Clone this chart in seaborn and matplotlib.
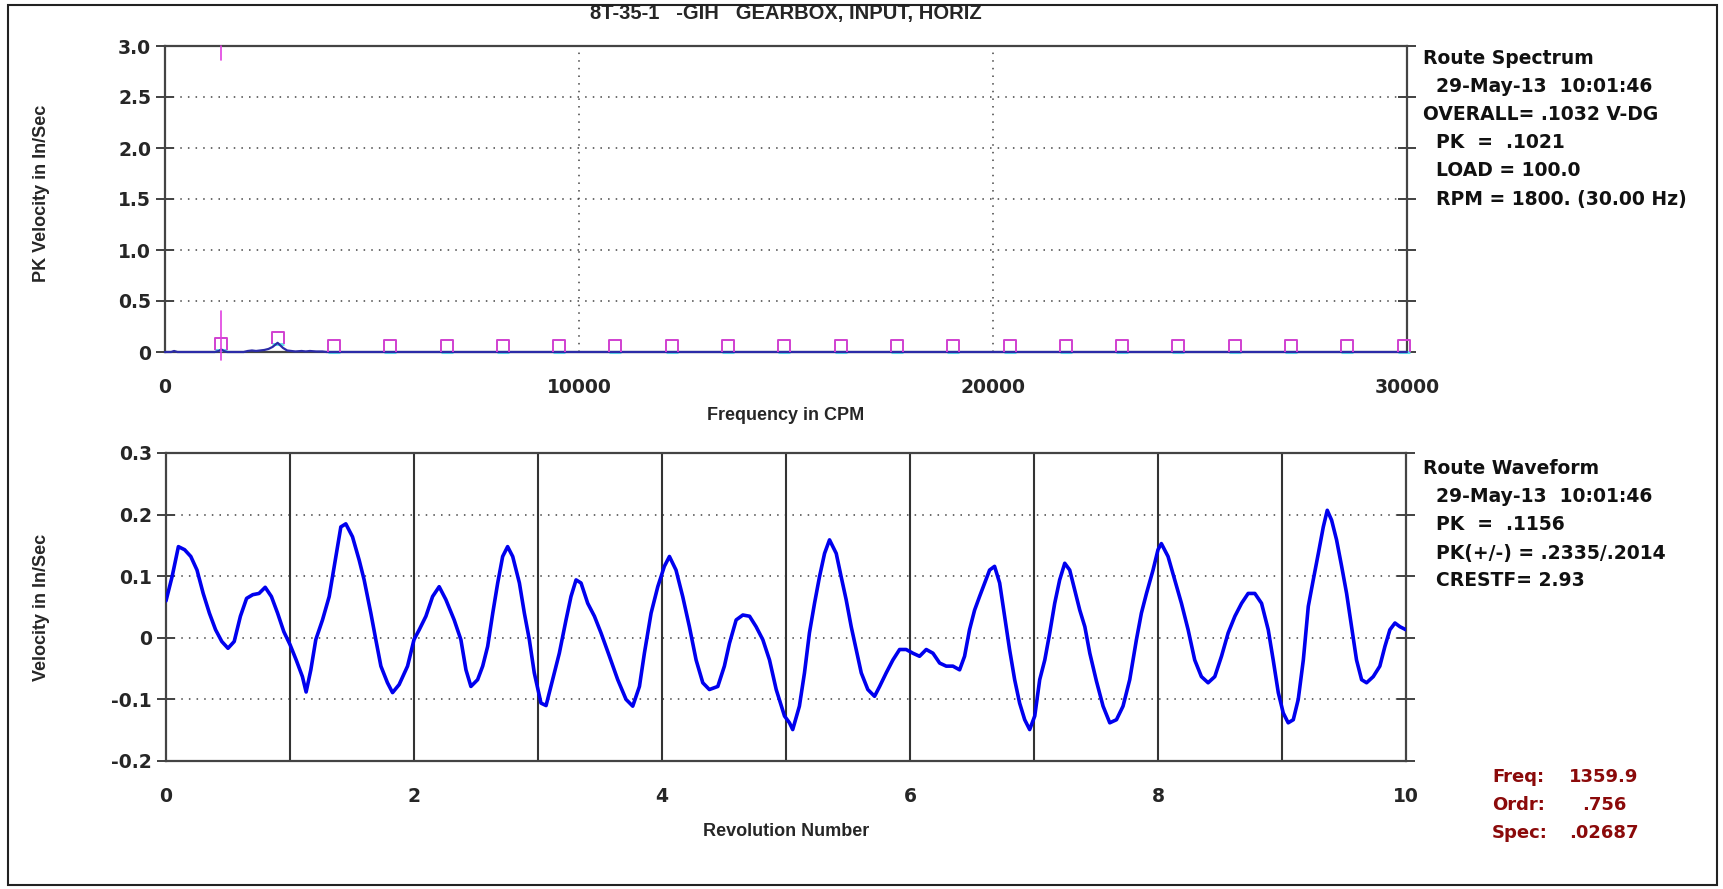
import matplotlib
matplotlib.use("Agg")
import numpy as np
import pandas as pd
import seaborn as sns
import matplotlib.pyplot as plt
from matplotlib.path import Path
from matplotlib.patches import Rectangle

# ---------------- data ----------------
spec_freq = [0, 150, 220, 300, 1200, 1300, 1360, 1420, 1500, 1900, 2000, 2100, 2200,
             2300, 2400, 2500, 2600, 2720, 2850, 2950, 3050, 3150, 3300, 3400, 3500,
             3650, 3800, 3900, 30000]
spec_amp = [0, 0, 0.01, 0, 0, 0.01, 0.025, 0.01, 0, 0, 0.01, 0.015, 0.01,
            0.015, 0.02, 0.03, 0.05, 0.09, 0.04, 0.015, 0.01, 0.005, 0.01, 0.005, 0.01,
            0.005, 0.005, 0, 0]

harm_freq = [1360, 2720, 4080, 5440, 6800, 8159, 9519, 10879, 12239, 13599, 14959,
             16319, 17679, 19039, 20399, 21758, 23118, 24478, 25838, 27198, 28558, 29918]
harm_amp = [0.02, 0.08, 0, 0, 0, 0, 0, 0, 0, 0, 0, 0, 0, 0, 0, 0, 0, 0, 0, 0, 0, 0]
cursor_freq = 1360

spec_yticks = [0, 0.5, 1.0, 1.5, 2.0, 2.5, 3.0]
spec_yticklabels = ["0", "0.5", "1.0", "1.5", "2.0", "2.5", "3.0"]
spec_xticks = [0, 10000, 20000, 30000]

wave_rev = [0.000, 0.050, 0.100, 0.150, 0.200, 0.250, 0.300, 0.350, 0.400, 0.450, 0.500,
            0.550, 0.600, 0.650, 0.700, 0.750, 0.800, 0.850, 0.900, 0.950, 1.000, 1.050,
            1.100, 1.130, 1.168, 1.208, 1.262, 1.316, 1.356, 1.410, 1.450, 1.504, 1.558,
            1.598, 1.652, 1.692, 1.733, 1.786, 1.827, 1.880, 1.948, 2.000, 2.042, 2.096,
            2.150, 2.203, 2.257, 2.324, 2.378, 2.419, 2.459, 2.513, 2.554, 2.594, 2.635,
            2.675, 2.715, 2.755, 2.796, 2.850, 2.890, 2.930, 2.970, 3.024, 3.065, 3.118,
            3.172, 3.226, 3.266, 3.307, 3.347, 3.401, 3.455, 3.508, 3.576, 3.643, 3.710,
            3.764, 3.818, 3.858, 3.912, 3.966, 4.019, 4.060, 4.113, 4.167, 4.221, 4.275,
            4.329, 4.382, 4.450, 4.503, 4.544, 4.598, 4.652, 4.706, 4.759, 4.813, 4.867,
            4.921, 4.988, 5.028, 5.054, 5.108, 5.149, 5.189, 5.230, 5.270, 5.311, 5.351,
            5.405, 5.445, 5.485, 5.526, 5.566, 5.607, 5.660, 5.714, 5.755, 5.808, 5.862,
            5.916, 5.969, 6.023, 6.077, 6.131, 6.185, 6.239, 6.292, 6.346, 6.400, 6.440,
            6.480, 6.521, 6.561, 6.602, 6.642, 6.682, 6.723, 6.763, 6.803, 6.844, 6.884,
            6.925, 6.965, 7.006, 7.046, 7.087, 7.127, 7.167, 7.207, 7.248, 7.288, 7.328,
            7.369, 7.410, 7.450, 7.503, 7.557, 7.611, 7.665, 7.718, 7.772, 7.826, 7.866,
            7.907, 7.960, 8.000, 8.027, 8.081, 8.135, 8.189, 8.243, 8.296, 8.350, 8.404,
            8.458, 8.512, 8.566, 8.620, 8.674, 8.727, 8.781, 8.835, 8.889, 8.929, 8.970,
            9.010, 9.050, 9.091, 9.131, 9.172, 9.212, 9.252, 9.293, 9.333, 9.365, 9.400,
            9.440, 9.481, 9.521, 9.561, 9.601, 9.642, 9.682, 9.736, 9.789, 9.830, 9.870,
            9.911, 9.951, 10.000]
wave_vel = [0.060, 0.100, 0.148, 0.143, 0.132, 0.110, 0.072, 0.040, 0.013, -0.006, -0.017,
            -0.006, 0.035, 0.064, 0.070, 0.072, 0.082, 0.067, 0.040, 0.010, -0.011, -0.036,
            -0.063, -0.088, -0.052, -0.003, 0.029, 0.067, 0.115, 0.180, 0.185, 0.164, 0.126,
            0.094, 0.040, -0.003, -0.046, -0.073, -0.089, -0.076, -0.046, -0.003, 0.013, 0.035,
            0.067, 0.083, 0.062, 0.029, -0.003, -0.052, -0.079, -0.068, -0.046, -0.014, 0.040,
            0.089, 0.132, 0.148, 0.132, 0.089, 0.040, -0.003, -0.057, -0.106, -0.110, -0.068,
            -0.025, 0.029, 0.067, 0.094, 0.089, 0.056, 0.035, 0.008, -0.030, -0.068, -0.100,
            -0.111, -0.079, -0.025, 0.040, 0.083, 0.116, 0.132, 0.110, 0.067, 0.018, -0.036,
            -0.073, -0.084, -0.079, -0.046, -0.009, 0.029, 0.037, 0.035, 0.018, -0.003, -0.036,
            -0.084, -0.127, -0.138, -0.149, -0.111, -0.057, 0.008, 0.056, 0.099, 0.137, 0.159,
            0.137, 0.099, 0.062, 0.018, -0.019, -0.057, -0.084, -0.095, -0.079, -0.057, -0.036,
            -0.019, -0.019, -0.025, -0.030, -0.019, -0.025, -0.041, -0.046, -0.046, -0.052, -0.030,
            0.013, 0.045, 0.067, 0.089, 0.110, 0.116, 0.089, 0.035, -0.019, -0.068, -0.106,
            -0.133, -0.149, -0.127, -0.068, -0.036, 0.008, 0.056, 0.094, 0.121, 0.110, 0.078,
            0.045, 0.018, -0.025, -0.070, -0.111, -0.138, -0.133, -0.111, -0.068, -0.003, 0.040,
            0.072, 0.110, 0.143, 0.153, 0.132, 0.094, 0.056, 0.013, -0.036, -0.063, -0.073,
            -0.063, -0.030, 0.008, 0.035, 0.056, 0.072, 0.072, 0.056, 0.013, -0.036, -0.089,
            -0.122, -0.138, -0.133, -0.100, -0.036, 0.051, 0.094, 0.137, 0.180, 0.207, 0.191,
            0.159, 0.116, 0.072, 0.018, -0.036, -0.068, -0.073, -0.063, -0.046, -0.014, 0.013,
            0.024, 0.018, 0.013]

wave_yticks = [-0.2, -0.1, 0, 0.1, 0.2, 0.3]
wave_yticklabels = ["-0.2", "-0.1", "0", "0.1", "0.2", "0.3"]
wave_xticks = [0, 2, 4, 6, 8, 10]
rev_lines = [1, 2, 3, 4, 5, 6, 7, 8, 9]

title = "8T-35-1   -GIH   GEARBOX, INPUT, HORIZ"
spec_info = ["Route Spectrum", "  29-May-13  10:01:46", "OVERALL= .1032 V-DG",
             "  PK  =  .1021", "  LOAD = 100.0", "  RPM = 1800. (30.00 Hz)"]
wave_info = ["Route Waveform", "  29-May-13  10:01:46", "  PK  =  .1156",
             "  PK(+/-) = .2335/.2014", "  CRESTF= 2.93"]
cursor_keys = ["Freq:", "Ordr:", "Spec:"]
cursor_vals = ["1359.9", ".756", ".02687"]

# ---------------- style ----------------
sns.set_style("white")
plt.rcParams['font.family'] = ['Liberation Sans', 'DejaVu Sans']
plt.rcParams['font.weight'] = 'bold'
plt.rcParams['axes.labelweight'] = 'bold'

W, H = 1724, 889
fig = plt.figure(figsize=(W / 100, H / 100), dpi=100)

def fx(px):
    return px / W

def fy(py):
    return 1 - py / H

LAB_FS = 13          # axis labels (Arial-like)
WIDE = ['DejaVu Sans']
WIDE_FS = 13.5       # tick labels and info text (wider face)
SPINE = '#444444'
GRID = '#444444'
DOT = (0, (1, 4))

ax1 = fig.add_axes([fx(165), fy(352), (1407 - 165) / W, (352 - 46) / H])
ax2 = fig.add_axes([fx(166), fy(761), (1406 - 166) / W, (761 - 453) / H])

# ---------------- spectrum ----------------
for yv in spec_yticks[1:-1]:
    ax1.axhline(yv, color=GRID, lw=1.1, ls=DOT, zorder=1)
for xv in spec_xticks[1:-1]:
    ax1.axvline(xv, color=GRID, lw=1.1, ls=DOT, zorder=1)

sdf = pd.DataFrame({"freq": spec_freq, "amp": spec_amp})
sns.lineplot(data=sdf, x="freq", y="amp", ax=ax1, color='#2b2ba8', lw=1.6,
             zorder=4, clip_on=False)

open_sq = Path([(-1, -1), (-1, 1), (1, 1), (1, -1)],
               [Path.MOVETO, Path.LINETO, Path.LINETO, Path.LINETO])
ax1.plot(harm_freq, harm_amp, ls='', marker='_', ms=8.5, mew=2.2,
         color='#5fe0e8', zorder=3, clip_on=False)
ax1.plot(harm_freq, [a + 0.058 for a in harm_amp], ls='', marker=open_sq, ms=8.5,
         mew=1.4, mfc='none', mec='#d040d0', zorder=5, clip_on=False)
ax1.plot([cursor_freq, cursor_freq], [-0.08, 0.40], color='#e040e0', lw=1.2,
         zorder=6, clip_on=False)
ax1.plot([cursor_freq, cursor_freq], [2.86, 3.0], color='#e040e0', lw=1.2,
         zorder=6, clip_on=False)

ax1.set_xlim(0, 30000)
ax1.set_ylim(0, 3.0)
ax1.set_yticks(spec_yticks)
ax1.set_yticklabels(spec_yticklabels)
ax1.set_xticks(spec_xticks)
ax1.set_xticklabels([str(v) for v in spec_xticks])
ax1.set_xlabel("Frequency in CPM", fontsize=LAB_FS, fontweight='bold')
ax1.set_ylabel("PK Velocity in In/Sec", fontsize=LAB_FS, fontweight='bold')
ax1.xaxis.set_label_coords(0.5, (352 - 416) / 306)
ax1.xaxis.label.set_va('center')
ax1.yaxis.set_label_coords((42 - 165) / 1242, 0.52)
ax1.yaxis.label.set_va('center')
ax1.set_title(title, fontsize=14.5, fontweight='bold', pad=0,
              y=1 + (46 - 14) / 306, va='center')

# ---------------- waveform ----------------
for yv in [-0.1, 0, 0.1, 0.2]:
    ax2.axhline(yv, color=GRID, lw=1.1, ls=DOT, zorder=1)
for xv in rev_lines:
    ax2.axvline(xv, color='#333333', lw=1.5, zorder=2)

wdf = pd.DataFrame({"rev": wave_rev, "vel": wave_vel})
sns.lineplot(data=wdf, x="rev", y="vel", ax=ax2, color='#0000ee', lw=2.6, zorder=4)

ax2.set_xlim(0, 10)
ax2.set_ylim(-0.2, 0.3)
ax2.set_yticks(wave_yticks)
ax2.set_yticklabels(wave_yticklabels)
ax2.set_xticks(wave_xticks)
ax2.set_xticklabels([str(v) for v in wave_xticks])
ax2.set_xlabel("Revolution Number", fontsize=LAB_FS, fontweight='bold')
ax2.set_ylabel("Velocity in In/Sec", fontsize=LAB_FS, fontweight='bold')
ax2.xaxis.set_label_coords(0.5, (761 - 831) / 308)
ax2.xaxis.label.set_va('center')
ax2.yaxis.set_label_coords((42 - 166) / 1240, 0.5)
ax2.yaxis.label.set_va('center')

for ax in (ax1, ax2):
    for sp in ax.spines.values():
        sp.set_visible(True)
        sp.set_color(SPINE)
        sp.set_linewidth(1.6)
    ax.tick_params(axis='y', direction='inout', length=13, width=1.3, color='#333333',
                   left=True, right=True, labelleft=True, labelright=False,
                   labelsize=WIDE_FS, pad=3.5)
    ax.tick_params(axis='x', length=0, labelsize=WIDE_FS, pad=19)
    for lab in ax.get_xticklabels() + ax.get_yticklabels():
        lab.set_fontweight('bold')
        lab.set_fontfamily(WIDE)
    ax.set_facecolor('white')

# ---------------- side texts ----------------
for i, s in enumerate(spec_info):
    fig.text(fx(1423), fy(59 + 28 * i), s, fontsize=WIDE_FS, fontweight='bold',
             family=WIDE, ha='left', va='center', color='#111111')
for i, s in enumerate(wave_info):
    fig.text(fx(1423), fy(469 + 28 * i), s, fontsize=WIDE_FS, fontweight='bold',
             family=WIDE, ha='left', va='center', color='#111111')
for i, (k, v) in enumerate(zip(cursor_keys, cursor_vals)):
    fig.text(fx(1492), fy(777 + 28 * i), k, fontsize=13, fontweight='bold',
             family=WIDE, ha='left', va='center', color='#8b0a0a')
    fig.text(fx(1604), fy(777 + 28 * i), v, fontsize=13, fontweight='bold',
             family=WIDE, ha='center', va='center', color='#8b0a0a')

# border frame
fig.patches.append(Rectangle((fx(8), fy(885)), (1717 - 8) / W, (885 - 5) / H,
                             transform=fig.transFigure, fill=False,
                             edgecolor='#222222', lw=1.5, zorder=0))

fig.savefig("out.png", dpi=100, facecolor='white')
